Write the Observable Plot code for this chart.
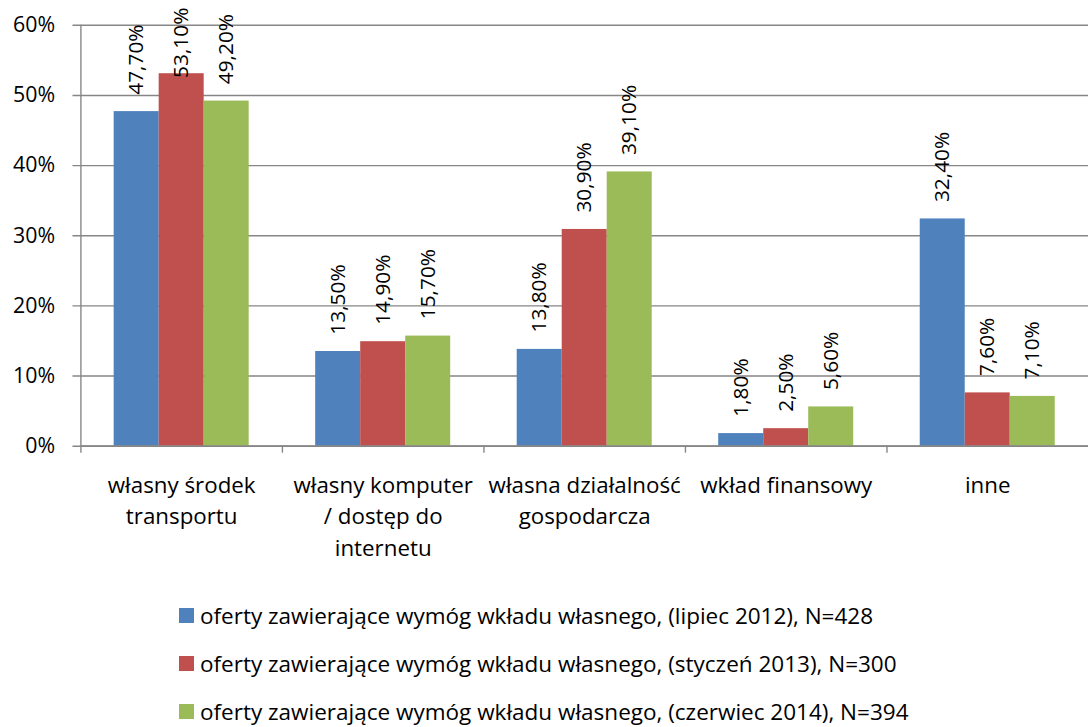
<!DOCTYPE html>
<html>
<head>
<meta charset="utf-8">
<script src="https://cdn.jsdelivr.net/npm/d3@7"></script>
<script src="https://cdn.jsdelivr.net/npm/@observablehq/plot@0.6"></script>
<style>
  html, body { margin: 0; padding: 0; background: #fff; overflow: hidden; }
  #wrap { position: relative; width: 1088px; height: 727px; overflow: hidden; font-family: "Open Sans", sans-serif; }
  #chart { position: absolute; left: 0; top: 0; }
  #legend { position: absolute; left: 179px; top: 591px; font-size: 22.5px; line-height: 1.2; color: #000; white-space: nowrap; }
  .row { display: flex; align-items: center; height: 48px; }
  .sw { width: 15px; height: 15px; margin-right: 6px; flex: none; }
</style>
</head>
<body>
<div id="wrap">
  <div id="chart"></div>
  <div id="legend"></div>
</div>
<script>
// ---- data ----
const categories = [
  "własny środek transportu",
  "własny komputer / dostęp do internetu",
  "własna działalność gospodarcza",
  "wkład finansowy",
  "inne"
];
const categoryTickLabels = [
  "własny środek\ntransportu",
  "własny komputer\n/ dostęp do\ninternetu",
  "własna działalność\ngospodarcza",
  "wkład finansowy",
  "inne"
];
const seriesNames = [
  "oferty zawierające wymóg wkładu własnego, (lipiec 2012), N=428",
  "oferty zawierające wymóg wkładu własnego, (styczeń 2013), N=300",
  "oferty zawierające wymóg wkładu własnego, (czerwiec 2014), N=394"
];
const lipiec2012 = [47.7, 13.5, 13.8, 1.8, 32.4];
const styczen2013 = [53.1, 14.9, 30.9, 2.5, 7.6];
const czerwiec2014 = [49.2, 15.7, 39.1, 5.6, 7.1];
const yTicks = [0, 10, 20, 30, 40, 50, 60];
const seriesColors = ["#4F81BD", "#C0504D", "#9BBB59"];

// ---- build table ----
const seriesValues = [lipiec2012, styczen2013, czerwiec2014];
const rows = [];
seriesValues.forEach((vals, s) => vals.forEach((v, c) => rows.push({category: categories[c], series: s, value: v})));
const tickLabelOf = new Map(categories.map((c, i) => [c, categoryTickLabels[i]]));

// ---- layout ----
const W = 1096, H = 570, mL = 81, mR = 0, mT = 25, mB = 121;
const bw = (W - mL - mR) / categories.length;
const groupW = bw * 0.67;
const barW = groupW / 3;
const gridColor = "#868686";
const labelCap = 50.1; // labels that would leave the frame are pushed down, like the original
const fmt = v => v.toFixed(2).replace(".", ",") + "%";

const marks = [];
// grid lines (extend left as y ticks)
marks.push(Plot.ruleY(yTicks, {stroke: gridColor, strokeWidth: 1.4, insetLeft: -8}));
// bars per series
seriesValues.forEach((vals, s) => {
  const inL = (bw - groupW) / 2 + s * barW;
  const inR = bw - inL - barW;
  const data = rows.filter(r => r.series === s);
  marks.push(Plot.barY(data, {x: "category", y: "value", fill: seriesColors[s], insetLeft: inL, insetRight: inR}));
  marks.push(Plot.text(data, {
    x: "category", y: d => Math.min(d.value, labelCap), text: d => fmt(d.value),
    rotate: -90, textAnchor: "start", dx: -bw / 2 + inL + barW / 2, dy: -17,
    fontSize: 21, fill: "#000"
  }));
});
// y axis line and category boundary ticks
marks.push(Plot.ruleX([categories[0]], {dx: -bw / 2, stroke: gridColor, strokeWidth: 1.4}));
marks.push(Plot.ruleX(categories, {x: d => d, y1: 0, y2: 0, dx: -bw / 2, insetBottom: -7, stroke: gridColor, strokeWidth: 1.4}));
// baseline
marks.push(Plot.ruleY([0], {stroke: gridColor, strokeWidth: 1.8}));
// axes text
marks.push(Plot.axisY({ticks: yTicks, tickSize: 0, tickPadding: 26, tickFormat: d => d + "%", fontSize: 21.5, fill: "#000"}));
marks.push(Plot.axisX({ticks: categories, tickSize: 0, tickPadding: 24, tickFormat: d => tickLabelOf.get(d), fontSize: 22.5, lineHeight: 1.42, fill: "#000"}));

const chart = Plot.plot({
  width: W, height: H,
  marginLeft: mL, marginRight: mR, marginTop: mT, marginBottom: mB,
  style: {fontFamily: "'Open Sans', sans-serif", color: "#000", background: "#fff"},
  x: {domain: categories, padding: 0, label: null},
  y: {domain: [0, 60], label: null},
  marks
});
document.getElementById("chart").appendChild(chart);

// legend
const leg = document.getElementById("legend");
seriesNames.forEach((name, i) => {
  const row = document.createElement("div");
  row.className = "row";
  const sw = document.createElement("span");
  sw.className = "sw";
  sw.style.background = seriesColors[i];
  const t = document.createElement("span");
  t.textContent = name;
  row.appendChild(sw); row.appendChild(t);
  leg.appendChild(row);
});
</script>
</body>
</html>
